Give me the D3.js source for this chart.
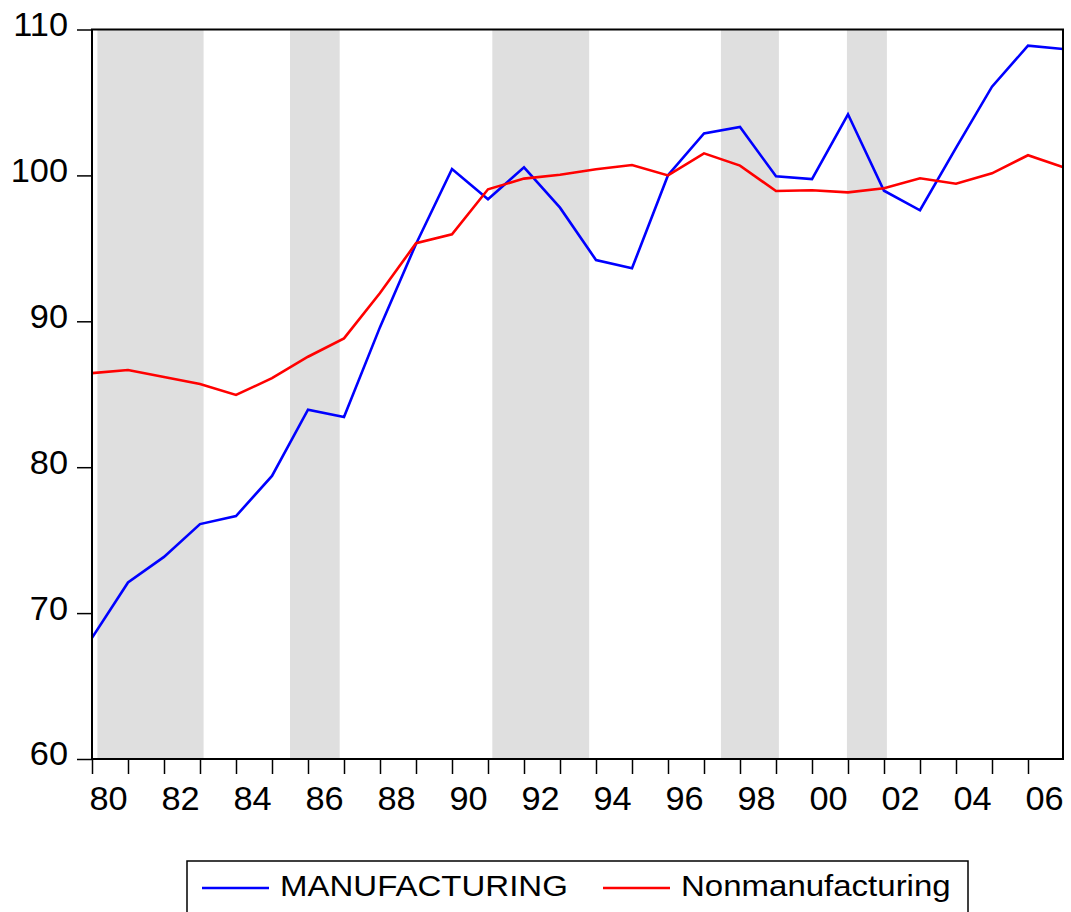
<html>
<style>
  body { margin: 0; background: #fff; }
  text { font-family: "Liberation Sans", Arial, sans-serif; fill: #000; }
</style>
<body>
<script src="https://d3js.org/d3.v7.min.js" charset="utf-8"></script>
<svg id="chart" width="1071" height="912"></svg>
<script>
// annual series, 1980-2007
var years = [1980, 1981, 1982, 1983, 1984, 1985, 1986, 1987, 1988, 1989,
             1990, 1991, 1992, 1993, 1994, 1995, 1996, 1997, 1998, 1999,
             2000, 2001, 2002, 2003, 2004, 2005, 2006, 2007];
var manufacturing = [68.3, 72.1, 73.85, 76.1, 76.65, 79.4, 83.94, 83.44, 89.6, 95.3,
                     100.44, 98.36, 100.55, 97.79, 94.2, 93.63, 100.01, 102.88, 103.32, 99.94,
                     99.75, 104.19, 98.95, 97.61, 101.88, 106.08, 108.89, 108.66];
var nonmanufacturing = [86.45, 86.66, 86.18, 85.7, 84.95, 86.1, 87.57, 88.83, 91.94, 95.35,
                        95.96, 99.05, 99.78, 100.05, 100.42, 100.71, 100.0, 101.51, 100.67, 98.93,
                        98.98, 98.84, 99.12, 99.8, 99.43, 100.14, 101.38, 100.55];
// shaded recession periods
var recessionStart = [1980.15, 1985.5, 1991.12, 1997.47, 2000.97];
var recessionEnd = [1983.1, 1986.88, 1993.81, 1999.08, 2002.08];
var yTicks = [60, 70, 80, 90, 100, 110];
var xLabelYears = [1980, 1982, 1984, 1986, 1988, 1990, 1992, 1994, 1996, 1998, 2000, 2002, 2004, 2006];
var seriesNames = ["MANUFACTURING", "Nonmanufacturing"];

// "top" is taken by window.top, so use other names
var pLeft = 92, pRight = 1063, pTop = 29.5, pBottom = 759;
var svg = d3.select("#chart");

var x = d3.scaleLinear().domain([1980, 2007]).range([pLeft, pLeft + 27 * 36]);
var y = d3.scaleLinear().domain([60, 110]).range([pBottom, pTop]);

// stretch text a bit wider, the original font is wider than Arial
function stretch(sel, k) {
  sel.each(function() {
    var w = this.getComputedTextLength();
    d3.select(this).attr("textLength", w * k).attr("lengthAdjust", "spacingAndGlyphs");
  });
}

svg.append("clipPath").attr("id", "clip")
  .append("rect").attr("x", pLeft).attr("y", pTop).attr("width", pRight - pLeft).attr("height", pBottom - pTop);

var plot = svg.append("g").attr("clip-path", "url(#clip)");

plot.selectAll("rect.shade")
  .data(recessionStart)
  .enter().append("rect")
  .attr("class", "shade")
  .attr("x", function(d) { return x(d); })
  .attr("width", function(d, i) { return x(recessionEnd[i]) - x(d); })
  .attr("y", pTop)
  .attr("height", pBottom - pTop)
  .style("fill", "#dfdfdf");

var line = d3.line()
  .x(function(d) { return x(d[0]); })
  .y(function(d) { return y(d[1]); });

plot.append("path")
  .datum(years.map(function(yr, i) { return [yr, manufacturing[i]]; }))
  .attr("d", line)
  .style("fill", "none").style("stroke", "#0000ff").style("stroke-width", 2.6);

plot.append("path")
  .datum(years.map(function(yr, i) { return [yr, nonmanufacturing[i]]; }))
  .attr("d", line)
  .style("fill", "none").style("stroke", "#ff0000").style("stroke-width", 2.6);

// frame
svg.append("rect")
  .attr("x", pLeft).attr("y", pTop).attr("width", pRight - pLeft).attr("height", pBottom - pTop)
  .style("fill", "none").style("stroke", "#000").style("stroke-width", 2);

// y axis
var yAxis = d3.axisLeft(y).tickValues(yTicks).tickSize(15).tickPadding(10).tickFormat(d3.format("d"));
var gy = svg.append("g").attr("transform", "translate(" + pLeft + ",0)").call(yAxis);
gy.select(".domain").remove();
gy.selectAll(".tick line").style("stroke", "#000").style("stroke-width", 1.5);
gy.selectAll(".tick text")
  .attr("x", -24).attr("dy", "0.18em")
  .style("font-size", "33px").style("font-family", "'Liberation Sans', Arial, sans-serif");
stretch(gy.selectAll(".tick text"), 1.04);

// x axis ticks
var xAxis = d3.axisBottom(x).tickValues(years.slice(0, 27)).tickSize(15).tickFormat("");
var gx = svg.append("g").attr("transform", "translate(0," + pBottom + ")").call(xAxis);
gx.select(".domain").remove();
gx.selectAll(".tick line").style("stroke", "#000").style("stroke-width", 1.5);

// x labels sit in the middle of the year
var xl = svg.append("g").selectAll("text")
  .data(xLabelYears)
  .enter().append("text")
  .attr("x", function(d) { return x(d + 0.5) - 1.5; })
  .attr("y", 809.5)
  .attr("text-anchor", "middle")
  .style("font-size", "33px")
  .text(function(d) { return d3.format("02d")(d % 100); });
stretch(xl, 1.04);

// legend
var lg = svg.append("g");
lg.append("rect").attr("x", 187).attr("y", 861).attr("width", 781).attr("height", 90)
  .style("fill", "#fff").style("stroke", "#000").style("stroke-width", 1.5);
var legendColors = ["#0000ff", "#ff0000"];
var legendX = [202, 603];
seriesNames.forEach(function(name, i) {
  lg.append("line")
    .attr("x1", legendX[i]).attr("x2", legendX[i] + 67)
    .attr("y1", 888).attr("y2", 888)
    .style("stroke", legendColors[i]).style("stroke-width", 2.6);
  var t = lg.append("text")
    .attr("x", legendX[i] + 78).attr("y", 896)
    .style("font-size", "30px")
    .text(name);
  stretch(t, 1.1);
});
</script>
</body>
</html>
